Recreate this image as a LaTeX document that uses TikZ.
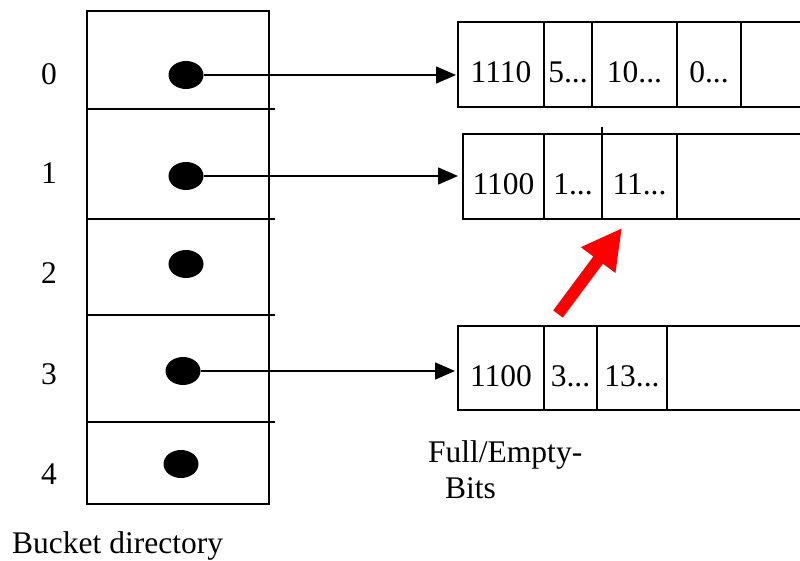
\documentclass[tikz,border=0pt]{standalone}
\usepackage{fontspec}
\setmainfont{Liberation Serif}
\usepackage{tikz}
\usetikzlibrary{calc}
\usetikzlibrary{positioning}
\usetikzlibrary{arrows.meta}
\usetikzlibrary{shapes.geometric}
\tikzset{
  slotNode/.style={%
    rectangle, draw, line width=1.5pt, outer sep=0pt, inner sep=0pt,
    minimum width=182pt,
  },
  cellNode/.style={%
    rectangle, draw, line width=1.5pt, outer sep=0pt, inner sep=0pt,
    minimum height=85pt, text height=36pt, text depth=0pt,
  },
  dotNode/.style={%
    ellipse, fill=black, minimum width=35pt, minimum height=28pt, inner sep=0pt,
  },
  textNode/.style={%
    inner sep=0pt,
  },
  pointer/.style={%
    line width=1.5pt, -{Triangle[length=20pt,width=17pt]},
  },
  moveArrow/.style={%
    line width=12pt, red, -{Triangle[length=40pt,width=40pt]},
  }
}

\begin{document}
\begin{tikzpicture}[x=1pt,y=-1pt,font=\fontsize{31.5}{37}\selectfont]

          \useasboundingbox (0,0) rectangle (800,561);
          \clip (0,0) rectangle (800,561);

          % bucket directory
          \node[slotNode,minimum height=98pt,anchor=north west] (slot0) at (87,11) {} ;
          \node[slotNode,minimum height=110pt,below=0pt of slot0] (slot1) {} ;
          \node[slotNode,minimum height=96pt,below=0pt of slot1] (slot2) {} ;
          \node[slotNode,minimum height=107pt,below=0pt of slot2] (slot3) {} ;
          \node[slotNode,minimum height=82pt,below=0pt of slot3] (slot4) {} ;
          \foreach \i in {0,...,3}
            \draw[line width=1.5pt] (slot\i.south east) -- ++(6,0);

          \node[textNode] (num0) at (49,74) {0} ;
          \node[textNode] (num1) at (49,173) {1} ;
          \node[textNode] (num2) at (49,273) {2} ;
          \node[textNode] (num3) at (49,374) {3} ;
          \node[textNode] (num4) at (49,474) {4} ;

          \node[dotNode] (dot0) at (186,75) {} ;
          \node[dotNode] (dot1) at (186,176) {} ;
          \node[dotNode] (dot2) at (186,264) {} ;
          \node[dotNode] (dot3) at (183,371) {} ;
          \node[dotNode] (dot4) at (181,464) {} ;

          % buckets
          \node[cellNode,minimum width=86pt,anchor=west] (c00) at (458,64.5) {1110} ;
          \node[cellNode,minimum width=48pt,right=0pt of c00] (c01) {5...} ;
          \node[cellNode,minimum width=85pt,right=0pt of c01] (c02) {10...} ;
          \node[cellNode,minimum width=64pt,right=0pt of c02] (c03) {0...} ;
          \node[cellNode,minimum width=200pt,right=0pt of c03] (c04) {} ;

          \node[cellNode,minimum width=81pt,anchor=west] (c10) at (463,176.5) {1100} ;
          \node[cellNode,minimum width=58pt,right=0pt of c10] (c11) {1...} ;
          \node[cellNode,minimum width=75pt,right=0pt of c11] (c12) {11...} ;
          \node[cellNode,minimum width=200pt,right=0pt of c12] (c13) {} ;
          \draw[line width=1.5pt] (c12.north west) -- ++(0,-7);

          \node[cellNode,minimum width=86pt,minimum height=84pt,anchor=west] (c30) at (458,368) {1100} ;
          \node[cellNode,minimum width=53pt,minimum height=84pt,right=0pt of c30] (c31) {3...} ;
          \node[cellNode,minimum width=70pt,minimum height=84pt,right=0pt of c31] (c32) {13...} ;
          \node[cellNode,minimum width=200pt,minimum height=84pt,right=0pt of c32] (c33) {} ;

          \node[textNode,anchor=base west] (bitsA) at (428,462) {Full/Empty-} ;
          \node[textNode,anchor=base west] (bitsB) at (445,498) {Bits} ;
          \node[textNode,anchor=base west] (dirLabel) at (12,553) {Bucket directory} ;

          \coordinate (moveFrom) at (558,314);
          \coordinate (moveTo) at (622,228);

          \draw[pointer]
            (dot0.east) -- ($(dot0.east -| c00.west)+(-2,0)$)
            ;
          \draw[pointer]
            (dot1.east) -- ($(dot1.east -| c10.west)+(-5,0)$)
            ;
          \draw[pointer]
            (dot3.east) -- ($(dot3.east -| c30.west)+(-3,0)$)
            ;
          \draw[moveArrow] (moveFrom) -- (moveTo) ;

        \end{tikzpicture}
\end{document}
